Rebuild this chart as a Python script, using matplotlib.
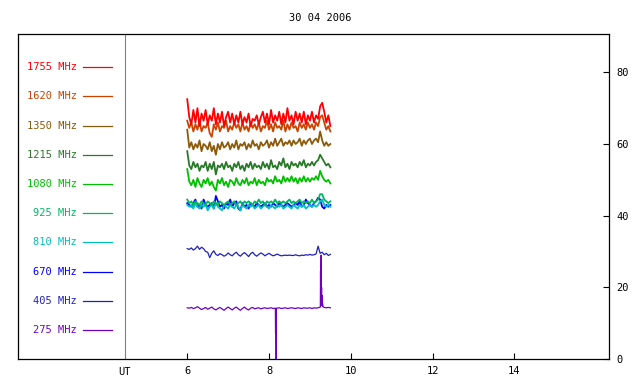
import numpy as np
import matplotlib
matplotlib.use("Agg")
import matplotlib.pyplot as plt

plt.rcParams["font.family"] = ["DejaVu Sans Mono"]

# ---------- 数据 ----------
freqs = ["275", "405", "670", "810", "925", "1080", "1215", "1350", "1620", "1755"]
colors = ["#7000c0", "#2020c0", "#0000ff", "#00c0c0", "#00b864",
          "#00c000", "#287a28", "#8b5a0a", "#cc4400", "#ff0000"]

f1755 = [72.5, 67.5, 65.5, 69.5, 66, 70, 65, 68.5, 66.5, 69.5, 65.5, 68, 66.5, 70, 65.5, 68.5,
         66, 69, 65, 67.5, 69, 66, 68.5, 65.5, 68, 66, 69, 65.5, 67.5, 66, 68.5, 65, 67, 66.5,
         68, 65.5, 67.5, 69, 66, 68.5, 65.5, 69.5, 66, 68, 66.5, 69, 65.5, 68.5, 66, 70, 66.5,
         68, 65.5, 69, 66.5, 68.5, 66, 69, 65.5, 68, 66.5, 69, 66, 68, 67, 70.5, 71.5, 69, 66, 68, 65]
f1620 = [66.5, 64.5, 66, 63.5, 65.5, 64, 66.5, 63.5, 65, 64.5, 66, 63, 62, 65.5, 64, 66, 63.5,
         65, 64.5, 66.5, 63.5, 65, 64, 66, 64.5, 65.5, 63.5, 66, 64, 65, 63.5, 66, 64.5, 65.5,
         64, 66, 63.5, 65, 64.5, 66.5, 64, 65.5, 63.5, 66, 64.5, 65, 64, 66.5, 63.5, 65.5, 64,
         66, 64.5, 65, 63.5, 66, 64.5, 65.5, 64, 66, 64.5, 65.5, 64, 66, 65, 67.5, 68, 66, 64, 65, 63.5]
f1350 = [64, 59, 60.5, 58.5, 60, 59, 61, 58, 60, 59.5, 58.5, 60.5, 58, 59.5, 57, 60, 58.5, 60.5,
         59, 59.5, 60.5, 58.5, 60, 59, 61, 58.5, 60, 59.5, 60.5, 58.5, 60, 59, 61, 59.5, 60, 58.5,
         60.5, 59.5, 60, 61, 59, 60.5, 59.5, 61.5, 59.5, 60.5, 61.5, 59.5, 60.5, 60, 61, 59.5, 61,
         60, 60.5, 61.5, 59.5, 61, 60, 61, 61.5, 60, 61, 61.5, 60.5, 63.5, 61, 59.5, 60.5, 59.5, 60]
f1215 = [58, 54, 53, 55, 53.5, 54.5, 52.5, 54, 53.5, 55, 52.5, 54.5, 53, 55, 51.5, 54, 53.5, 54.5,
         53, 55, 53.5, 54, 52.5, 54.5, 53.5, 55, 53, 54, 52.5, 54.5, 53.5, 55, 53, 54.5, 53.5, 54,
         53, 55, 53.5, 54.5, 53, 55.5, 53.5, 54, 53, 55, 54, 56, 53.5, 54.5, 53, 55, 54, 54.5, 53.5,
         55, 54, 55.5, 53.5, 54.5, 54, 55, 54, 55, 55.5, 57, 56, 55, 54, 54.5, 53.5]
f1080 = [53, 49.5, 48.5, 50, 48, 50.5, 49, 48, 50, 49, 50.5, 48.5, 49.5, 48, 47, 50, 49, 50.5,
         48.5, 49.5, 48, 50, 49.5, 48.5, 50.5, 49, 48.5, 50, 49, 50.5, 48.5, 49.5, 49, 50.5, 48.5,
         50, 49, 49.5, 48.5, 50.5, 49.5, 50, 49, 51, 49.5, 50, 49, 51, 49.5, 50.5, 49.5, 51, 49.5,
         50.5, 49, 50.5, 49.5, 51, 49.5, 50.5, 49.5, 50.5, 50, 51, 50, 52.5, 51, 50, 49.5, 50, 49]
f925 = [44.5, 43.5, 44, 43, 44, 43.5, 43, 44, 43.5, 43, 44, 43.5, 43, 44, 43.5, 43, 44, 43.5, 43,
        43.5, 44, 43, 43.5, 44, 43, 43.5, 44, 43, 44, 43.5, 44, 43.5, 43, 44, 43.5, 44.5, 43.5, 44,
        43, 44, 43.5, 44, 43.5, 44.5, 43.5, 44, 43.5, 44, 43.5, 44, 44.5, 43.5, 44, 43.5, 44, 44.5,
        43.5, 44, 43.5, 44, 43.5, 44.5, 43.5, 44, 44.5, 46, 46, 44.5, 44, 43.5, 44]
f810 = [43, 42.5, 43, 42, 43.5, 42.5, 42, 43, 42.5, 43, 41.5, 42.5, 43, 42, 43.5, 42.5, 42, 41.5,
        43, 42.5, 42, 43, 42.5, 42, 43, 42.5, 41.5, 43, 42.5, 42, 43, 42.5, 43, 42, 42.5, 43, 42,
        42.5, 43, 42.5, 42, 43, 42.5, 42, 43, 42.5, 43, 42, 42.5, 43, 42.5, 42, 43, 42.5, 42, 43,
        42.5, 43, 42, 42.5, 43, 42.5, 43, 42.5, 43, 44, 44.5, 43, 42.5, 43, 42.5]
f670 = [43.5, 43, 42.5, 43.5, 44.5, 42.5, 43, 42, 44.5, 43, 42.5, 43, 43.5, 42, 45.5, 44, 42.5,
        43, 42, 43.5, 43, 44.5, 42.5, 43.5, 44, 42, 41.5, 43.5, 42.5, 43, 42, 43.5, 43, 42.5, 43.5,
        43, 42.5, 43, 43.5, 42.5, 43, 42.5, 43.5, 43, 42.5, 43.5, 43, 42.5, 43, 43.5, 43, 42.5, 43,
        43.5, 43, 44, 42.5, 43, 44.5, 43.5, 43, 42.5, 43.5, 44, 45, 44.5, 42.5, 42, 43, 42.5, 43]
f405 = [30.8, 30.6, 31, 30.4, 30.8, 31.5, 30.6, 31.2, 30.8, 30, 29.8, 28.3, 29.5, 30.2, 29.2, 28.9,
        29.4, 29.1, 28.7, 29, 29.6, 29.1, 28.8, 29.4, 29.8, 29.1, 28.7, 29.3, 29.7, 29.2, 28.6, 29.4,
        29.8, 29.1, 28.7, 29.2, 29.6, 29.3, 28.8, 29.2, 29.5, 29.1, 28.8, 29.0, 29.3, 29.0, 28.8,
        28.9, 29.0, 28.9, 29.0, 28.9, 28.9, 29.1, 28.9, 28.8, 29.0, 28.9, 29.1, 29.0, 29.2, 29.0,
        29.1, 29.3, 31.5, 29.5, 29.8, 29.1, 29.5, 28.9, 29.2]

t275 = [6.00, 6.05, 6.10, 6.15, 6.20, 6.25, 6.30, 6.35, 6.40, 6.45, 6.50, 6.55, 6.60, 6.65, 6.70,
        6.75, 6.80, 6.85, 6.90, 6.95, 7.00, 7.05, 7.10, 7.15, 7.20, 7.25, 7.30, 7.35, 7.40, 7.45,
        7.50, 7.55, 7.60, 7.65, 7.70, 7.75, 7.80, 7.85, 7.90, 7.95, 8.00, 8.05, 8.10, 8.155, 8.16,
        8.165, 8.17, 8.175, 8.18, 8.20, 8.25, 8.30, 8.35, 8.40, 8.45, 8.50, 8.55, 8.60, 8.65, 8.70,
        8.75, 8.80, 8.85, 8.90, 8.95, 9.00, 9.05, 9.10, 9.15, 9.20, 9.255, 9.26, 9.265, 9.27, 9.275,
        9.28, 9.285, 9.29, 9.295, 9.30, 9.31, 9.32, 9.35, 9.40, 9.45, 9.50]
f275 = [14.3, 14.2, 14.4, 14.1, 14.3, 14.6, 14.2, 13.8, 14.1, 14.4, 13.9, 14.2, 14.5, 14.0, 13.7,
        14.1, 14.4, 14.0, 13.6, 14.1, 14.5, 14.1, 13.7, 14.2, 14.5, 14.0, 13.6, 14.1, 14.5, 14.0,
        13.7, 14.2, 14.4, 14.0, 14.2, 14.3, 14.0, 14.2, 14.3, 14.1, 14.2, 14.3, 14.1, 14.2, 7.3,
        14.0, 7.0, -3.0, 14.2, 14.2, 14.3, 14.1, 14.2, 14.3, 14.1, 14.2, 14.3, 14.2, 14.1, 14.3,
        14.2, 14.1, 14.3, 14.2, 14.2, 14.3, 14.1, 14.3, 14.2, 14.3, 14.5, 24.6, 15.0, 24.0, 29.0,
        17.9, 20.0, 15.5, 17.8, 14.8, 15.5, 14.6, 14.4, 14.3, 14.4, 14.3]

series = [f405, f670, f810, f925, f1080, f1215, f1350, f1620, f1755]

fig = plt.figure(figsize=(6.4, 3.84), dpi=100)
ax = fig.add_axes([0.028, 0.065, 0.924, 0.8465])

ax.plot(t275, f275, color=colors[0], lw=0.9)
ax.plot(np.linspace(6.0, 9.5, len(f405)), f405, color=colors[1], lw=0.9)
for vals, c in zip(series[1:], colors[2:]):
    ax.plot(np.linspace(6.0, 9.5, len(vals)), vals, color=c, lw=1.3)

# 左侧图例
for k, (f, c) in enumerate(zip(freqs, colors)):
    y = 8.1 + 8.15 * k
    ax.text(3.30, y, f"{f} MHz", color=c, fontsize=7.5, ha="right", va="center")
    ax.plot([3.45, 4.16], [y, y], color=c, lw=0.9)

ax.axvline(4.47, color="#808080", lw=0.8)
ax.text(4.47, -2.2, "UT", fontsize=7.5, ha="center", va="top")

ax.set_xlim(1.86, 16.32)
ax.set_ylim(0, 90.7)
ax.set_xticks([6, 8, 10, 12, 14])
ax.set_yticks([0, 20, 40, 60, 80])
ax.yaxis.tick_right()
ax.tick_params(direction="in", length=4, width=0.8, labelsize=7.5, pad=5)
for s in ax.spines.values():
    s.set_linewidth(0.9)

fig.suptitle("30 04 2006", y=0.965, fontsize=7.5)
fig.savefig("out.png", dpi=100)
